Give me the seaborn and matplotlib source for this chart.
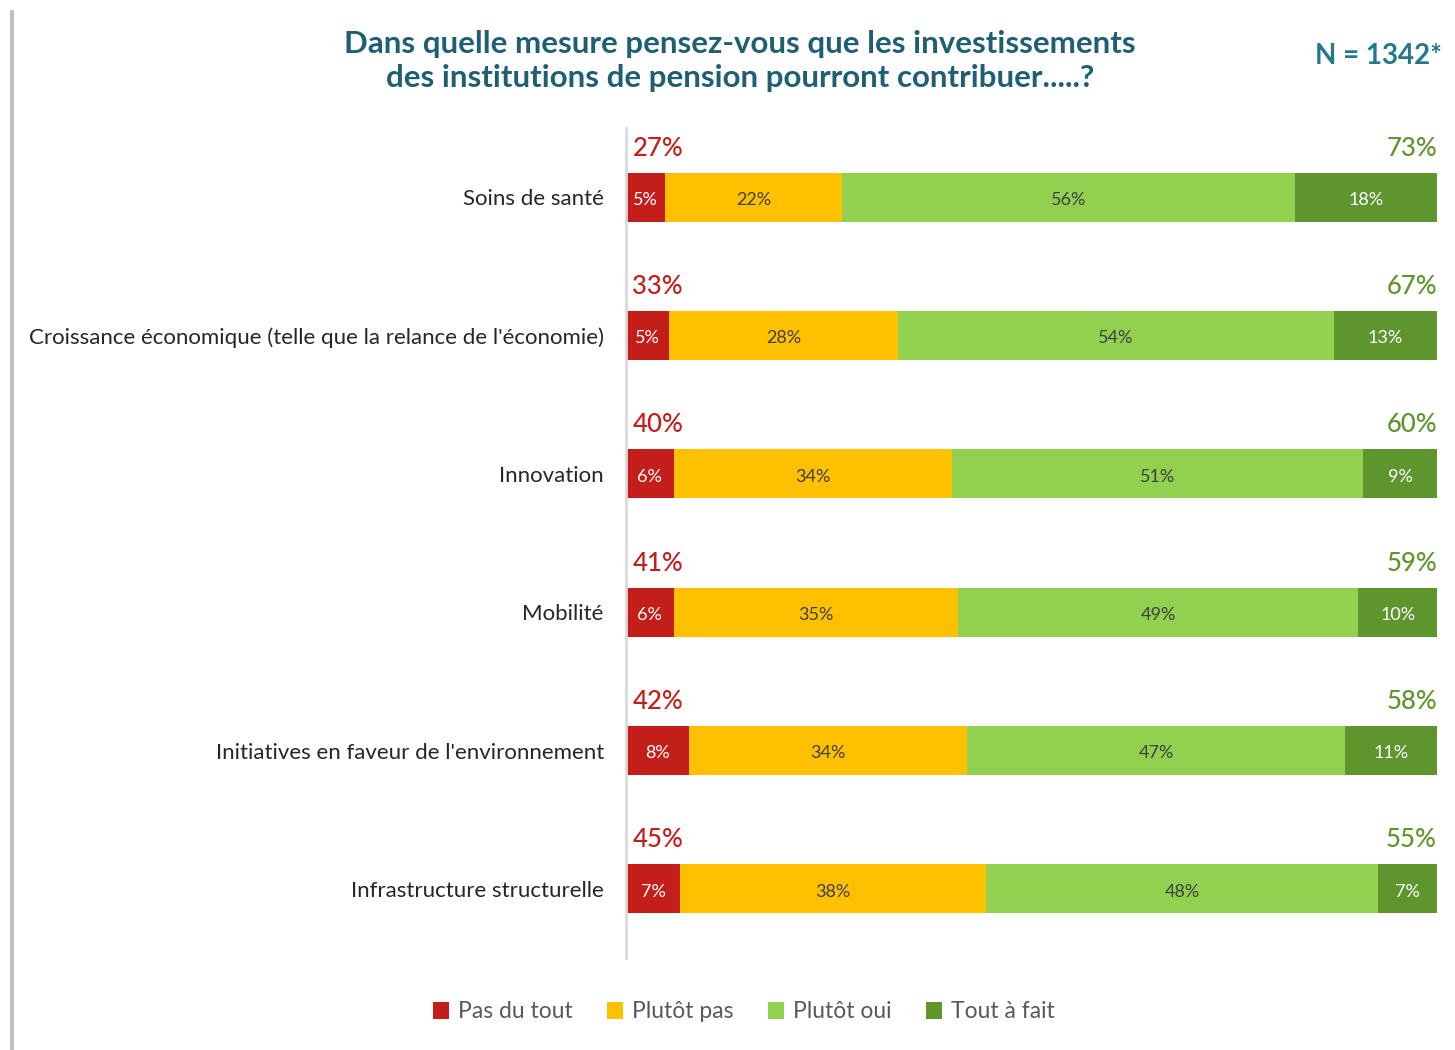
import pandas as pd
import numpy as np
import matplotlib.pyplot as plt
from matplotlib.lines import Line2D
from matplotlib.patches import Patch
import seaborn as sns

# Data
categories = ['Soins de santé',
              "Croissance économique (telle que la relance de l'économie)",
              'Innovation',
              'Mobilité',
              "Initiatives en faveur de l'environnement",
              'Infrastructure structurelle']
series_names = ['Pas du tout', 'Plutôt pas', 'Plutôt oui', 'Tout à fait']
pas_du_tout = [4.8, 5.3, 5.9, 5.9, 7.8, 6.7]
plutot_pas = [21.8, 28.2, 34.3, 35.0, 34.2, 37.7]
plutot_oui = [55.9, 53.8, 50.7, 49.4, 46.7, 48.3]
tout_a_fait = [17.5, 12.7, 9.1, 9.7, 11.3, 7.3]
# labels as printed in the chart
label_pas_du_tout = ['5%', '5%', '6%', '6%', '8%', '7%']
label_plutot_pas = ['22%', '28%', '34%', '35%', '34%', '38%']
label_plutot_oui = ['56%', '54%', '51%', '49%', '47%', '48%']
label_tout_a_fait = ['18%', '13%', '9%', '10%', '11%', '7%']
total_negatif = ['27%', '33%', '40%', '41%', '42%', '45%']
total_positif = ['73%', '67%', '60%', '59%', '58%', '55%']

colors = ['#C41E1A', '#FFC000', '#92D050', '#5E952D']
text_colors = ['white', '#404040', '#404040', 'white']
red_txt = '#C41E1A'
green_txt = '#5E952D'
title_col = '#1F5F75'

df = pd.DataFrame({'cat': categories,
                   'Pas du tout': pas_du_tout,
                   'Plutôt pas': plutot_pas,
                   'Plutôt oui': plutot_oui,
                   'Tout à fait': tout_a_fait})
cum = df[series_names].cumsum(axis=1)

sns.set_style('white')
plt.rcParams['font.family'] = ['Lato', 'DejaVu Sans']

fig = plt.figure(figsize=(14.55, 10.5), dpi=100)
ax = fig.add_axes([626 / 1455, 1 - 958 / 1050, (1437 - 626) / 1455, (958 - 128) / 1050])

# stacked bars: draw cumulative layers from the outermost to the innermost
for i in range(len(series_names) - 1, -1, -1):
    sns.barplot(x=cum[series_names[i]], y=df['cat'], orient='h', color=colors[i],
                width=0.354, saturation=1, linewidth=0, ax=ax, zorder=2)

seg_labels = [label_pas_du_tout, label_plutot_pas, label_plutot_oui, label_tout_a_fait]
for r in range(len(categories)):
    left = 0
    for i, s in enumerate(series_names):
        w = df[s][r]
        ax.text(left + w / 2, r + 0.02, seg_labels[i][r], ha='center', va='center',
                fontsize=13, color=text_colors[i], zorder=3)
        left += w
    ax.text(0.8, r - 0.355, total_negatif[r], ha='left', va='center',
            fontsize=18.5, color=red_txt, fontweight='medium')
    ax.text(100, r - 0.355, total_positif[r], ha='right', va='center',
            fontsize=18.5, color=green_txt, fontweight='medium')

ax.set_xlim(0, 100)
ax.set_ylim(5.5, -0.5)
ax.set_xlabel('')
ax.set_ylabel('')
ax.set_xticks([])
ax.tick_params(axis='y', length=0, pad=16, labelsize=16, labelcolor='#262626')
for sp in ['top', 'right', 'bottom']:
    ax.spines[sp].set_visible(False)
ax.spines['left'].set_color('#D9D9D9')
ax.spines['left'].set_linewidth(2)

fig.text(740 / 1455, 1 - 61 / 1050,
         'Dans quelle mesure pensez-vous que les investissements\n'
         'des institutions de pension pourront contribuer.....?',
         ha='center', va='center', fontsize=22.5, fontweight='bold', color=title_col,
         linespacing=1.3)
fig.text(1442 / 1455, 1 - 56 / 1050, 'N = 1342*', ha='right', va='center',
         fontsize=20, fontweight='bold', color='#23788E')

handles = [Patch(facecolor=c, edgecolor='none') for c in colors]
fig.legend(handles, series_names, loc='center', bbox_to_anchor=(744 / 1455, 1 - 1012 / 1050),
           ncol=4, frameon=False, fontsize=16.5, labelcolor='#595959',
           handlelength=0.7, handleheight=0.7, handletextpad=0.4, columnspacing=1.5)

# page border on the left
fig.add_artist(Line2D([12 / 1455, 12 / 1455], [0, 1 - 12 / 1050], color='#BFBFBF', lw=3))

fig.savefig('out.png', dpi=100)
